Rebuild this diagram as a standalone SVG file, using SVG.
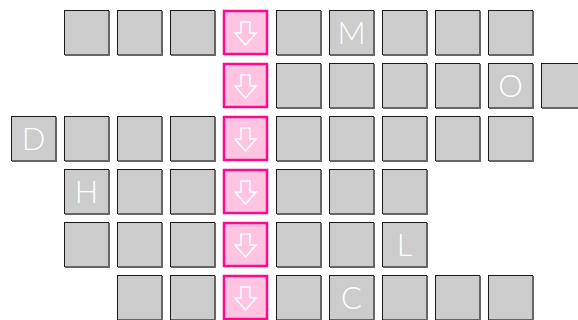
<svg xmlns="http://www.w3.org/2000/svg" width="578" height="320" viewBox="0 0 578 320">
<style>
.cr{fill:#cccccc;stroke:#1a1a1a;stroke-width:1}
.cs{fill:none;stroke:#666;stroke-width:2}
.pr{fill:#ffc4e2;stroke:#ff0a8c;stroke-width:2.5}
.pa{fill:#ffc4e2;stroke:#ffffff;stroke-width:1.5;stroke-linejoin:miter}
text{font-family:"Lato","Open Sans","Liberation Sans",sans-serif;font-weight:300;font-size:31px;fill:#ffffff;text-anchor:middle}
</style>
<defs>
<g id="cell"><rect class="cr" x="0.5" y="0.5" width="44" height="44"/><path class="cs" d="M45,1 V45 H1"/></g>
<g id="pink"><rect class="pr" x="1" y="1" width="43" height="43"/><polygon class="pa" points="18,12 27,12 27,23 33,23 22.5,35 12,23 18,23"/></g>
</defs>
<g id="connectors"></g>
<g id="row1">
<use href="#cell" x="64" y="10"/>
<use href="#cell" x="117" y="10"/>
<use href="#cell" x="170" y="10"/>
<use href="#pink" x="223" y="10"/>
<use href="#cell" x="276" y="10"/>
<g id="M"><use href="#cell" x="329" y="10"/><text x="351.5" y="43.5">M</text></g>
<use href="#cell" x="382" y="10"/>
<use href="#cell" x="435" y="10"/>
<use href="#cell" x="488" y="10"/>
</g>
<g id="row2">
<use href="#pink" x="223" y="63"/>
<use href="#cell" x="276" y="63"/>
<use href="#cell" x="329" y="63"/>
<use href="#cell" x="382" y="63"/>
<use href="#cell" x="435" y="63"/>
<g id="O"><use href="#cell" x="488" y="63"/><text x="510.5" y="96.5">O</text></g>
<use href="#cell" x="541" y="63"/>
</g>
<g id="row3">
<g id="D"><use href="#cell" x="11" y="116"/><text x="33.5" y="149.5">D</text></g>
<use href="#cell" x="64" y="116"/>
<use href="#cell" x="117" y="116"/>
<use href="#cell" x="170" y="116"/>
<use href="#pink" x="223" y="116"/>
<use href="#cell" x="276" y="116"/>
<use href="#cell" x="329" y="116"/>
<use href="#cell" x="382" y="116"/>
<use href="#cell" x="435" y="116"/>
<use href="#cell" x="488" y="116"/>
</g>
<g id="row4">
<g id="H"><use href="#cell" x="64" y="169"/><text x="86.5" y="202.5">H</text></g>
<use href="#cell" x="117" y="169"/>
<use href="#cell" x="170" y="169"/>
<use href="#pink" x="223" y="169"/>
<use href="#cell" x="276" y="169"/>
<use href="#cell" x="329" y="169"/>
<use href="#cell" x="382" y="169"/>
</g>
<g id="row5">
<use href="#cell" x="64" y="222"/>
<use href="#cell" x="117" y="222"/>
<use href="#cell" x="170" y="222"/>
<use href="#pink" x="223" y="222"/>
<use href="#cell" x="276" y="222"/>
<use href="#cell" x="329" y="222"/>
<g id="L"><use href="#cell" x="382" y="222"/><text x="404.5" y="255.5">L</text></g>
</g>
<g id="row6">
<use href="#cell" x="117" y="275"/>
<use href="#cell" x="170" y="275"/>
<use href="#pink" x="223" y="275"/>
<use href="#cell" x="276" y="275"/>
<g id="C"><use href="#cell" x="329" y="275"/><text x="351.5" y="308.5">C</text></g>
<use href="#cell" x="382" y="275"/>
<use href="#cell" x="435" y="275"/>
<use href="#cell" x="488" y="275"/>
</g>
</svg>
